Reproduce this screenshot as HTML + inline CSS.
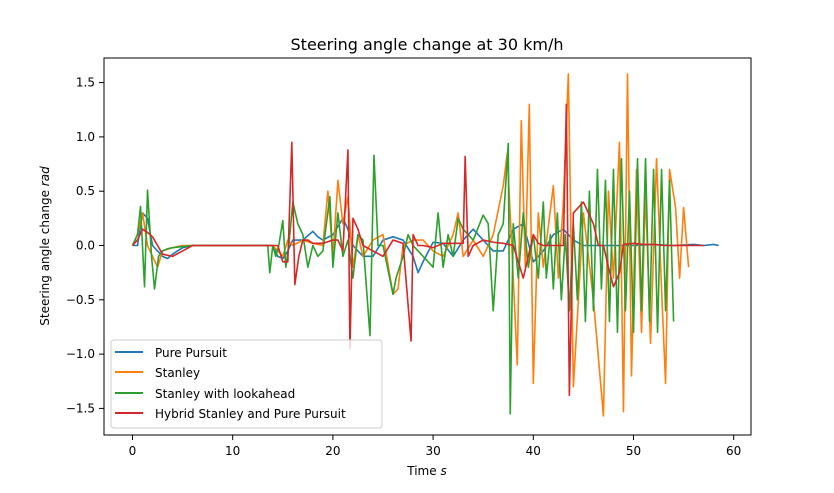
<!DOCTYPE html>
<html><head><meta charset="utf-8"><style>
body{margin:0;background:#fff;}
svg text{font-family:"DejaVu Sans","Liberation Sans",sans-serif;fill:#000;}
</style></head><body>
<svg id="chart" width="834" height="488" xmlns="http://www.w3.org/2000/svg">
<rect width="834" height="488" fill="#fff"/>
<text x="427" y="50" font-size="16" text-anchor="middle">Steering angle change at 30 km/h</text>
<g id="plot"></g>
<rect x="104" y="58" width="647" height="377" fill="none" stroke="#000" stroke-width="1"/>
<g id="axes"></g>
<text x="427" y="475" font-size="12" text-anchor="middle">Time <tspan font-style="italic">s</tspan></text>
<text transform="translate(49,246) rotate(-90)" font-size="12" text-anchor="middle">Steering angle change <tspan font-style="italic">rad</tspan></text>
<g>
<rect x="111" y="340" width="271" height="88" rx="3" fill="#fff" fill-opacity="0.8" stroke="#ccc"/>
<line x1="115" y1="352" x2="143" y2="352" stroke="#1f77b4" stroke-width="2"/>
<text x="155" y="357" font-size="12">Pure Pursuit</text>
<line x1="115" y1="372" x2="143" y2="372" stroke="#ff7f0e" stroke-width="2"/>
<text x="155" y="377" font-size="12">Stanley</text>
<line x1="115" y1="393" x2="143" y2="393" stroke="#2ca02c" stroke-width="2"/>
<text x="155" y="398" font-size="12">Stanley with lookahead</text>
<line x1="115" y1="413" x2="143" y2="413" stroke="#d62728" stroke-width="2"/>
<text x="155" y="418" font-size="12">Hybrid Stanley and Pure Pursuit</text>
</g>
</svg>
<script>
const xTicks=[0,10,20,30,40,50,60];
const yTicks=[-1.5,-1.0,-0.5,0.0,0.5,1.0,1.5];
const ppT=[0,0.5,1,1.5,2,2.5,3,3.5,4,5,6,8,14,14.5,15,15.5,16,17,18,18.5,19,20,21,21.5,22,23,24,25,26,27,28,28.5,29,30,31,32,33,34,35,36,37,38,39,40,41,42,43,44,45,46,48,50,52,54,56,57,58,58.5];
const ppV=[0,0,0.3,0.25,0,-0.05,-0.1,-0.12,-0.08,-0.02,0,0,0,-0.1,-0.12,-0.05,0.05,0.05,0.13,0.08,0.05,0.1,0.25,0.15,0,-0.1,-0.1,0.05,0.08,0.05,-0.1,-0.25,-0.15,0.03,0.02,-0.1,0.05,0.15,0.05,-0.05,-0.05,0.15,0.2,-0.15,-0.05,0.1,0.15,0.05,0,0,0,0,0.01,0,0.01,0,0.01,0];
const stT=[0,0.5,1,1.5,2,2.5,3,4,5,6,8,14,14.5,15,15.5,16,17,18,19,19.5,20,20.5,21,21.5,22,22.5,23,24,25,26,26.5,27,28,29,30,31,32,32.5,33,34,35,36,37,37.4,38,38.4,38.8,39.2,39.6,40,40.5,41,42,42.5,43,43.5,44,45,46,47,47.5,48,48.6,49,49.4,49.8,50.3,50.8,51.2,51.7,52.3,52.8,53.2,53.6,54.2,54.6,55,55.5];
const stV=[0,0.1,0.3,0,-0.1,-0.2,-0.05,-0.02,0,0,0,0,-0.05,-0.1,0.05,0,0.05,0.02,0,0.5,-0.1,0.6,0.2,0.45,-0.2,0.1,-0.1,0.05,0.1,-0.45,-0.4,0,0.05,0.05,-0.05,-0.1,0.1,0.3,-0.1,0.05,-0.1,0.1,0.55,0.85,-0.3,-1.1,1.15,-0.2,1.3,-1.27,0.3,-0.2,0.55,-0.3,0.4,1.58,-1.3,0.3,-0.5,-1.57,0.5,-0.3,0.95,-1.53,1.58,-1.2,0.7,-0.8,0.5,-0.9,0.8,-0.4,-1.27,0.7,0.35,-0.3,0.35,-0.2];
const slT=[0,0.5,0.8,1.2,1.5,1.9,2.2,2.6,3,3.5,4,5,6,8,13.5,13.7,14,14.3,14.6,15,15.3,15.6,16,16.5,17,17.5,18,18.5,19,19.7,20,20.5,21,21.5,22,22.5,23,23.7,24.1,24.5,25,26,26.3,27,27.5,28,29,30,30.5,31,31.5,32,32.5,33,33.5,34,35,35.5,36,36.5,37,37.5,37.7,38,38.5,39,39.5,40,40.5,41,41.3,41.7,42,42.4,42.8,43.2,43.6,44,44.4,44.8,45.2,45.6,46,46.4,46.8,47.2,47.6,48,48.4,48.8,49.2,49.6,50,50.4,50.8,51.2,51.6,52,52.4,52.8,53.2,53.6,54];
const slV=[0,0.1,0.36,-0.38,0.51,-0.1,-0.4,-0.1,-0.05,-0.03,-0.02,-0.01,0,0,0,-0.25,0,-0.1,0,0.23,-0.2,0,0.4,0.2,0.1,-0.2,0,-0.1,-0.05,0.45,-0.2,0.3,-0.1,0.05,-0.3,0.1,0.05,-0.83,0.83,0,0,-0.45,-0.3,-0.1,0.1,0,-0.1,-0.2,0.3,-0.2,0.1,-0.1,0.25,0.15,0.1,0.05,0.28,0.2,-0.6,0.1,0.2,0.94,-1.55,0.2,-0.3,0.3,-0.2,0.1,-0.3,0.4,-0.3,0.1,-0.4,0.3,-0.5,0.1,-0.6,0.2,-0.5,0.4,-0.7,0.5,-0.6,0.7,-0.4,0.6,-0.7,0.7,-0.8,0.8,-0.6,0.5,-0.8,0.8,-0.6,0.8,-0.7,0.7,-0.8,0.7,-0.6,0.6,-0.7,0.3,0];
const hyT=[0,0.5,1,1.5,2,2.5,3,4,5,6,8,14,14.5,15,15.5,15.9,16.2,16.6,17,17.5,18,19,20,20.5,21,21.5,21.7,22,22.5,23,24,25,26,27,27.8,28,28.5,29,30,31,32,33,33.2,33.5,34,35,36,37,38,39,40,40.5,41,42,43,43.3,43.6,44,45,46,46.5,47,47.5,48,48.6,49,50,51,52,53,54,55,56,57];
const hyV=[0,0.05,0.15,0.12,0.08,0,-0.08,-0.1,-0.05,0,0,0,0,-0.15,-0.15,0.95,-0.36,-0.1,0.05,0.05,0.02,0.02,0.05,0.05,-0.05,0.88,-0.95,0.25,0.15,0,-0.05,-0.1,0.05,0.02,-0.88,0.1,0,0,-0.02,0.02,0.02,0.02,0.82,-0.1,0,0.05,0.03,0.02,0,-0.3,0.1,0.02,0,0,0,1.3,-1.38,0.3,0.4,0.2,0,0,-0.2,-0.38,-0.25,0.01,0.02,0.01,0.01,0,0,0,0,0];
const NS="http://www.w3.org/2000/svg";
const X=v=>132.5+v*10.02, Y=v=>245.5-v*108.6;
const axes=document.getElementById('axes'), plot=document.getElementById('plot');
xTicks.forEach(t=>{
  const l=document.createElementNS(NS,'line');
  l.setAttribute('x1',X(t));l.setAttribute('x2',X(t));l.setAttribute('y1',435);l.setAttribute('y2',440);l.setAttribute('stroke','#000');
  
  
  axes.appendChild(l);
  const tx=document.createElementNS(NS,'text');
  tx.setAttribute('x',X(t));tx.setAttribute('y',455);tx.setAttribute('font-size','12');tx.setAttribute('text-anchor','middle');tx.textContent=t;
  
  
  axes.appendChild(tx);
});
yTicks.forEach(t=>{
  const l=document.createElementNS(NS,'line');
  l.setAttribute('x1',99);l.setAttribute('x2',104);l.setAttribute('y1',Y(t));l.setAttribute('y2',Y(t));l.setAttribute('stroke','#000');
  
  
  axes.appendChild(l);
  const tx=document.createElementNS(NS,'text');
  tx.setAttribute('x',95);tx.setAttribute('y',Y(t)+4);tx.setAttribute('font-size','12');tx.setAttribute('text-anchor','end');tx.textContent=(t<0?'\u2212':'')+Math.abs(t).toFixed(1);
  
  
  axes.appendChild(tx);
});
function line(T,V,c,n){
  const p=document.createElementNS(NS,'polyline');
  p.setAttribute('points',T.map((t,i)=>X(t)+','+Y(V[i])).join(' '));
  p.setAttribute('fill','none');p.setAttribute('stroke',c);p.setAttribute('stroke-width','1.6');p.setAttribute('stroke-linejoin','round');
  
  
  plot.appendChild(p);
}
line(ppT,ppV,'#1f77b4','pure-pursuit-line');
line(stT,stV,'#ff7f0e','stanley-line');
line(slT,slV,'#2ca02c','stanley-lookahead-line');
line(hyT,hyV,'#d62728','hybrid-line');
</script>
</body></html>
